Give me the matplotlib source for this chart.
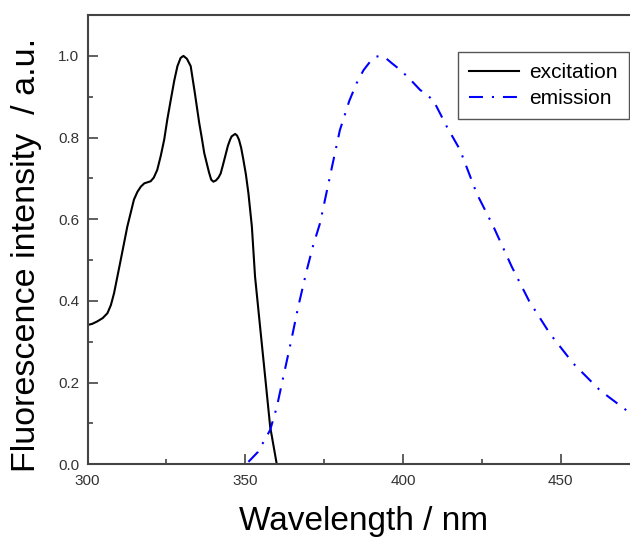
import matplotlib
matplotlib.use("Agg")
import matplotlib.pyplot as plt
from matplotlib.ticker import MultipleLocator

plt.rcParams['font.family'] = ['Liberation Sans', 'DejaVu Sans']

# Excitation spectrum
exc_x = [300, 301.5, 303.1, 304.8, 306.3, 307.4, 308.4, 310.5, 312.6, 314.7, 315.8,
         316.9, 318.0, 319.2, 320.0, 321.0, 322.1, 323.2, 324.3, 325.3, 326.4,
         327.5, 328.5, 329.5, 330.4, 331.5, 332.7, 334.0, 335.4, 336.2, 337.0,
         338.5, 339.2, 339.9, 340.7, 341.5, 342.2, 343.0, 344.5, 345.2, 345.7,
         346.8, 347.4, 348.0, 348.7, 349.4, 350.2, 351.0, 352.1, 353.1, 354.7,
         356.3, 357.9, 360.0]
exc_y = [0.341, 0.344, 0.350, 0.358, 0.370, 0.390, 0.419, 0.500, 0.582, 0.648, 0.667,
         0.680, 0.688, 0.691, 0.693, 0.702, 0.721, 0.755, 0.795, 0.845, 0.893,
         0.940, 0.975, 0.995, 1.000, 0.993, 0.975, 0.910, 0.836, 0.800, 0.762,
         0.715, 0.697, 0.692, 0.695, 0.702, 0.712, 0.735, 0.780, 0.795, 0.803,
         0.809, 0.805, 0.795, 0.775, 0.746, 0.710, 0.664, 0.582, 0.460, 0.337,
         0.215, 0.092, 0.0]

# Emission spectrum
em_x = [351.0, 354.0, 357.9, 360.0, 362.1, 364.5, 366.8, 369.5, 371.5, 373.7, 377.0,
        380.0, 383.0, 385.3, 387.5, 389.6, 390.6, 391.5, 392.7, 394.5, 396.5, 399.1,
        402.0, 405.4, 409.6, 413.9, 418.1, 423.4, 428.7, 434.5, 440.0, 446.6,
        454.0, 462.5, 470.9, 475.0]
em_y = [0.006, 0.030, 0.084, 0.140, 0.215, 0.300, 0.386, 0.475, 0.535, 0.590, 0.710,
        0.818, 0.890, 0.933, 0.965, 0.986, 0.994, 0.998, 1.000, 0.995, 0.982, 0.966,
        0.945, 0.917, 0.892, 0.827, 0.770, 0.663, 0.582, 0.484, 0.400, 0.320,
        0.247, 0.181, 0.132, 0.112]

x_ticks = [300, 350, 400, 450]
y_ticks = [0.0, 0.2, 0.4, 0.6, 0.8, 1.0]

fig = plt.figure(figsize=(6.30, 5.38), dpi=100)
ax = fig.add_axes([0.139, 0.137, 0.876, 0.835])

ax.plot(exc_x, exc_y, color='black', lw=1.5, label='excitation',
        solid_joinstyle='round')
ax.plot(em_x, em_y, color='#0000ff', lw=1.5, linestyle=(0, (6.7, 4.3, 1.0, 4.3)),
        dash_joinstyle='round', label='emission')

ax.set_xlim(300, 475)
ax.set_ylim(0, 1.1)
ax.set_xticks(x_ticks)
ax.set_yticks(y_ticks)
ax.set_xticklabels([str(v) for v in x_ticks])
ax.set_yticklabels([f"{v:.1f}" for v in y_ticks])
ax.xaxis.set_minor_locator(MultipleLocator(25))
ax.yaxis.set_minor_locator(MultipleLocator(0.1))

for s in ax.spines.values():
    s.set_color('#444444')
    s.set_linewidth(1.5)

ax.tick_params(which='both', direction='in', color='#444444', width=1.2,
               labelcolor='#333333', labelsize=11)
ax.tick_params(which='major', length=7)
ax.tick_params(which='minor', length=3.5)
ax.tick_params(axis='x', pad=7)
ax.tick_params(axis='y', pad=6)
ax.tick_params(top=False, right=False, which='both')

ax.set_xlabel('Wavelength / nm', fontsize=24, va='baseline')
ax.xaxis.set_label_coords(0.501, -0.146)
ax.set_ylabel('Fluorescence intensity  / a.u.', fontsize=24.5)
ax.yaxis.set_label_coords(-0.082, 0.466)

leg = ax.legend(loc='upper left', bbox_to_anchor=(0.671, 0.918), fontsize=15,
                frameon=True, fancybox=False, framealpha=1, edgecolor='#555555',
                handlelength=2.4, handletextpad=0.45, labelspacing=0.32,
                borderpad=0.55, borderaxespad=0)
leg.get_frame().set_linewidth(1.0)

fig.savefig('out.png', dpi=100)
